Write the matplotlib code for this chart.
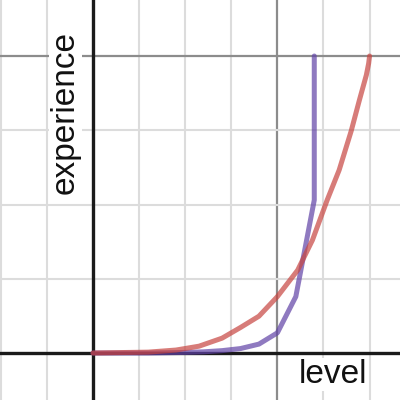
import matplotlib
matplotlib.use("Agg")
import matplotlib.pyplot as plt
import numpy as np

# Data
red_level = [0, 6, 9, 11.5, 14, 16, 18, 20, 22.2, 23.8, 25.4, 26.7, 28, 28.9, 29.65, 29.9, 30]
red_exp = [0, 3, 10, 23, 50, 86, 124, 190, 279, 380, 515, 616, 747, 852, 936, 975, 1000]

purple_level = [0, 2, 4, 6, 8, 10, 12, 14, 16, 18, 20, 22, 24, 24]
purple_exp = [0, 0, 0, 0, 1, 2, 4, 8, 15, 30, 68, 190, 515, 1000]

x_label = "level"
y_label = "experience"

plt.rcParams['font.family'] = ['Liberation Sans', 'DejaVu Sans']

fig = plt.figure(figsize=(4, 4), dpi=100)
ax = fig.add_axes([0, 0, 1, 1])

for s in ax.spines.values():
    s.set_visible(False)
ax.set_xticks(np.arange(-10, 35, 5), minor=True)
ax.set_yticks(np.arange(-250, 1250, 250), minor=True)
ax.set_xticks([-20, 20])
ax.set_yticks([1000])
ax.tick_params(which='both', length=0, labelbottom=False, labelleft=False)
ax.grid(which='minor', color='#dcdcdc', linewidth=1.5, zorder=0)
ax.grid(which='major', color='#8c8c8c', linewidth=1.6, zorder=0.5)
ax.set_axisbelow(True)

ax.axhline(0, color='#1a1a1a', linewidth=2.4, zorder=2)
ax.axvline(0, color='#1a1a1a', linewidth=2.4, zorder=2)

ax.plot(purple_level, purple_exp, color='#6042a6', alpha=0.7, linewidth=3.6,
        solid_capstyle='round', solid_joinstyle='round', zorder=3)
ax.plot(red_level, red_exp, color='#c74440', alpha=0.7, linewidth=3.6,
        solid_capstyle='round', solid_joinstyle='round', zorder=3)

ax.text(29.7, -101, x_label, fontsize=24, ha='right', va='baseline', color='#111111',
        bbox=dict(facecolor='white', edgecolor='none', pad=1), zorder=2.5)
ax.text(-2.06, 811, y_label, fontsize=24, rotation=90, rotation_mode='anchor',
        ha='center', va='baseline', color='#111111',
        bbox=dict(facecolor='white', edgecolor='none', pad=1), zorder=2.5)

ax.set_xlim(-10.09, 33.3)
ax.set_ylim(-158.2, 1188.6)

fig.savefig("out.png", dpi=100)
